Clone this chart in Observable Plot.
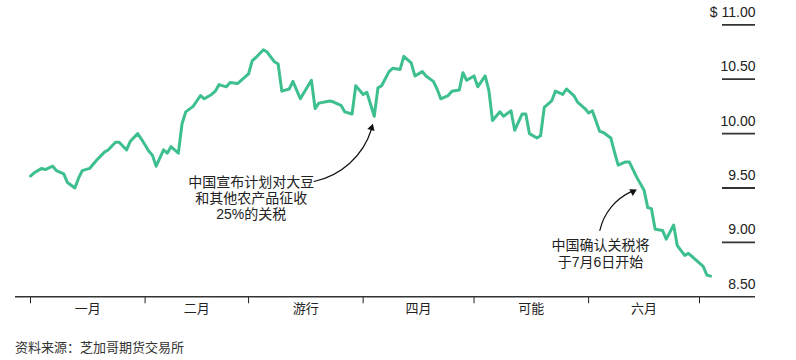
<!DOCTYPE html>
<html><head><meta charset="utf-8">
<script src="https://cdn.jsdelivr.net/npm/d3@7"></script>
<script src="https://cdn.jsdelivr.net/npm/@observablehq/plot@0.6"></script>
<style>
body{margin:0;background:#fff;font-family:"Liberation Sans","Noto Sans CJK SC",sans-serif;}
#caption{padding:8px 0 0 15px;font-size:13px;line-height:17px;color:#333;font-family:"Noto Sans CJK SC",sans-serif;}
</style></head><body>
<div id="chart"></div>
<div id="caption">资料来源：芝加哥期货交易所</div>
<script>
// Soybean futures price, 2018 (USD per bushel)
const dates = [
"2018-01-01","2018-01-02","2018-01-04","2018-01-05","2018-01-07","2018-01-08","2018-01-10","2018-01-11","2018-01-13","2018-01-14","2018-01-15","2018-01-17","2018-01-18","2018-01-19","2018-01-21","2018-01-22","2018-01-24","2018-01-25","2018-01-27","2018-01-28","2018-01-30","2018-01-31",
"2018-02-02","2018-02-03","2018-02-04","2018-02-06","2018-02-07","2018-02-08","2018-02-10","2018-02-11","2018-02-12","2018-02-14","2018-02-16","2018-02-17","2018-02-19","2018-02-20","2018-02-21","2018-02-23","2018-02-24","2018-02-26","2018-02-27","2018-03-01",
"2018-03-02","2018-03-03","2018-03-05","2018-03-06","2018-03-08","2018-03-09","2018-03-10","2018-03-12","2018-03-13","2018-03-15","2018-03-18","2018-03-19","2018-03-20","2018-03-23","2018-03-24","2018-03-26","2018-03-27","2018-03-29","2018-03-30",
"2018-04-01","2018-04-02","2018-04-04","2018-04-05","2018-04-06","2018-04-08","2018-04-09","2018-04-11","2018-04-12","2018-04-14","2018-04-15","2018-04-17","2018-04-18","2018-04-20","2018-04-21","2018-04-22","2018-04-24","2018-04-25","2018-04-27","2018-04-28","2018-04-29",
"2018-05-01","2018-05-02","2018-05-04","2018-05-05","2018-05-06","2018-05-08","2018-05-09","2018-05-11","2018-05-12","2018-05-14","2018-05-15","2018-05-16","2018-05-18","2018-05-19","2018-05-20","2018-05-22","2018-05-23","2018-05-25","2018-05-26","2018-05-28","2018-05-29","2018-05-31",
"2018-06-01","2018-06-02","2018-06-04","2018-06-05","2018-06-07","2018-06-08","2018-06-09","2018-06-11","2018-06-12","2018-06-14","2018-06-16","2018-06-17","2018-06-18","2018-06-19","2018-06-21","2018-06-22","2018-06-24","2018-06-25","2018-06-27","2018-06-28","2018-06-30",
"2018-07-02","2018-07-03","2018-07-04"];
const prices = [
9.61,9.64,9.68,9.67,9.70,9.66,9.63,9.55,9.50,9.59,9.66,9.68,9.72,9.76,9.83,9.85,9.92,9.92,9.85,9.93,10.00,9.95,
9.84,9.80,9.70,9.85,9.82,9.88,9.82,10.09,10.20,10.25,10.35,10.32,10.36,10.39,10.45,10.43,10.47,10.46,10.49,10.55,
10.67,10.70,10.77,10.75,10.66,10.64,10.39,10.41,10.48,10.32,10.49,10.23,10.28,10.30,10.29,10.26,10.20,10.18,10.44,
10.36,10.38,10.16,10.42,10.44,10.57,10.60,10.59,10.71,10.65,10.53,10.57,10.53,10.48,10.41,10.32,10.35,10.39,10.40,10.56,10.49,
10.53,10.43,10.53,10.40,10.12,10.20,10.16,10.21,10.03,10.18,10.18,10.00,9.96,9.98,10.24,10.30,10.39,10.36,10.41,10.35,10.29,10.23,
10.19,10.21,10.02,10.01,9.96,9.83,9.71,9.74,9.74,9.60,9.48,9.32,9.31,9.12,9.11,9.03,9.16,8.97,8.88,8.90,8.84,
8.78,8.70,8.69];

const monthStarts = ["2018-01-01","2018-02-01","2018-03-01","2018-04-01","2018-05-01","2018-06-01","2018-07-01"];
const monthLabels = ["一月","二月","游行","四月","可能","六月"];
const yTicks = [11, 10.5, 10, 9.5, 9, 8.5];
const yTickLabels = ["$ 11.00","10.50","10.00","9.50","9.00","8.50"];

const annoTexts = ["中国宣布计划对大豆\n和其他农产品征收\n25%的关税", "中国确认关税将\n于7月6日开始"];
const annoTextAt = [["2018-03-01T17:00Z", 9.41], ["2018-06-04T05:00Z", 8.90]];
const annoArrowFrom = [["2018-03-18T17:00Z", 9.56], ["2018-06-04T01:00Z", 9.11]];
const annoArrowTo = [["2018-04-03T17:00Z", 10.10], ["2018-06-14T07:00Z", 9.49]];

const data = dates.map((d, i) => ({date: new Date(d), price: prices[i]}));
const starts = monthStarts.map(d => new Date(d));
const mids = monthLabels.map((m, i) => new Date((+starts[i] + +starts[i + 1]) / 2));
const xDomain = [new Date("2017-12-27T22:36Z"), new Date("2018-07-16T03:36Z")];
const gridFrom = new Date("2018-07-07T05:00Z");
const FONT = "Liberation Sans, Noto Sans CJK SC, sans-serif";
const CJK = "Noto Sans CJK SC, sans-serif";
const ink = "#222";

const arrowMark = (i, bend) => Plot.arrow([i], {
  x1: () => new Date(annoArrowFrom[i][0]), y1: () => annoArrowFrom[i][1],
  x2: () => new Date(annoArrowTo[i][0]), y2: () => annoArrowTo[i][1],
  bend, headLength: 0, insetEnd: 7, stroke: "#111", strokeWidth: 1.2
});
const headMark = (i, rot, dx, dy) => Plot.dot([i], {
  x: () => new Date(annoArrowTo[i][0]), y: () => annoArrowTo[i][1],
  symbol: "triangle2", r: 3.6, fill: "#111", stroke: "none", rotate: rot, dx, dy
});

const chart = Plot.plot({
  width: 796, height: 330,
  marginTop: 24.3, marginBottom: 330 - 296.3, marginLeft: 15, marginRight: 41,
  style: {fontFamily: FONT, fontSize: "13px", color: ink, background: "#fff", overflow: "visible"},
  x: {type: "utc", domain: xDomain, ticks: starts, tickFormat: () => "", tickSize: 7, tickPadding: 0, label: null},
  y: {domain: [8.5, 11], axis: null},
  marks: [
    Plot.ruleY(yTicks.slice(0, -1), {x1: () => gridFrom, x2: () => xDomain[1], stroke: "#333", strokeWidth: 1.8}),
    Plot.ruleY([8.5], {stroke: "#333", strokeWidth: 1.5}),
    Plot.text(yTicks, {x: () => xDomain[1], y: d => d, text: (d, i) => yTickLabels[i], textAnchor: "end", lineAnchor: "bottom", dy: -8, fontSize: 14, fill: ink}),
    Plot.line(data, {x: "date", y: "price", stroke: "#3dbf8e", strokeWidth: 3, strokeLinejoin: "round", strokeLinecap: "round"}),
    Plot.text(monthLabels, {x: (d, i) => mids[i], y: () => 8.5, text: d => d, dy: 12, fontSize: 13, fontFamily: CJK, fill: ink}),
    Plot.text(annoTexts, {x: (d, i) => new Date(annoTextAt[i][0]), y: (d, i) => annoTextAt[i][1], text: d => d, lineHeight: 1.165, lineAnchor: "middle", fontSize: 14, fontFamily: FONT, fill: ink}),
    arrowMark(0, -33),
    arrowMark(1, 30),
    headMark(0, 17, -1.6, 5.2),
    headMark(1, 62, -4.8, 2.5)
  ]
});
document.getElementById("chart").appendChild(chart);
</script>
</body></html>
